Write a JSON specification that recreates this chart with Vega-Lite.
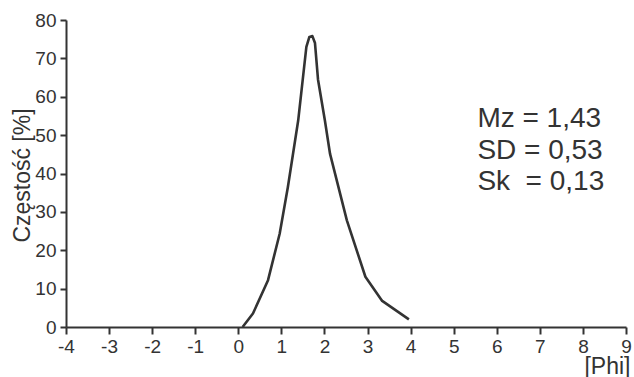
{
  "$schema": "https://vega.github.io/schema/vega-lite/v6.json",
  "width": 560,
  "height": 307,
  "autosize": {"type": "none"},
  "padding": {"left": 66, "top": 20, "right": 8, "bottom": 50},
  "background": "white",
  "config": {
    "view": {"stroke": null},
    "font": "Liberation Sans",
    "axis": {"grid": false, "domainColor": "#333", "domainWidth": 2, "tickColor": "#333", "tickWidth": 2, "labelColor": "#333", "titleColor": "#333", "labelFont": "Liberation Sans", "titleFont": "Liberation Sans", "titleFontWeight": "normal"}
  },
  "datasets": {
    "curve": [
      {"phi": 0.10, "pct": 0.0},
      {"phi": 0.34, "pct": 3.5},
      {"phi": 0.69, "pct": 12.2},
      {"phi": 0.96, "pct": 24.3},
      {"phi": 1.15, "pct": 36.4},
      {"phi": 1.39, "pct": 53.8},
      {"phi": 1.58, "pct": 73.0},
      {"phi": 1.65, "pct": 75.6},
      {"phi": 1.72, "pct": 75.8},
      {"phi": 1.78, "pct": 74.0},
      {"phi": 1.85, "pct": 64.5},
      {"phi": 2.01, "pct": 53.8},
      {"phi": 2.13, "pct": 45.1},
      {"phi": 2.52, "pct": 27.8},
      {"phi": 2.95, "pct": 13.1},
      {"phi": 3.34, "pct": 6.8},
      {"phi": 3.96, "pct": 2.0}
    ],
    "stats": [
      {"phi": 5.55, "pct": 52.0, "label": "Mz = 1,43"},
      {"phi": 5.55, "pct": 43.8, "label": "SD = 0,53"},
      {"phi": 5.55, "pct": 35.8, "label": "Sk\u00a0 = 0,13"}
    ]
  },
  "encoding": {
    "x": {
      "field": "phi", "type": "quantitative",
      "scale": {"domain": [-4, 9], "nice": false, "zero": false},
      "axis": {"values": [-4,-3,-2,-1,0,1,2,3,4,5,6,7,8,9], "labelExpr": "toString(datum.value)", "labelFontSize": 19, "tickSize": 7, "labelPadding": 3, "labelFlush": false, "labelOverlap": false,
               "title": "[Phi]", "titleFontSize": 23, "titleAnchor": "end", "titleAlign": "right", "titleBaseline": "alphabetic", "titleX": 564, "titleY": 46}
    },
    "y": {
      "field": "pct", "type": "quantitative",
      "scale": {"domain": [0, 80], "nice": false},
      "axis": {"values": [0,10,20,30,40,50,60,70,80], "labelFontSize": 19, "tickSize": 6, "labelPadding": 4, "labelFlush": false, "labelOverlap": false,
               "title": "Częstość [%]", "titleFontSize": 23, "titleAngle": -90, "titleAlign": "center", "titleBaseline": "alphabetic", "titleX": -37, "titleY": 155}
    }
  },
  "layer": [
    {
      "data": {"name": "curve"},
      "mark": {"type": "line", "color": "#333", "strokeWidth": 2.6, "strokeJoin": "round"}
    },
    {
      "data": {"name": "stats"},
      "mark": {"type": "text", "align": "left", "baseline": "alphabetic", "fontSize": 28, "color": "#333", "font": "Liberation Sans"},
      "encoding": {
        "text": {"field": "label"}
      }
    }
  ]
}
